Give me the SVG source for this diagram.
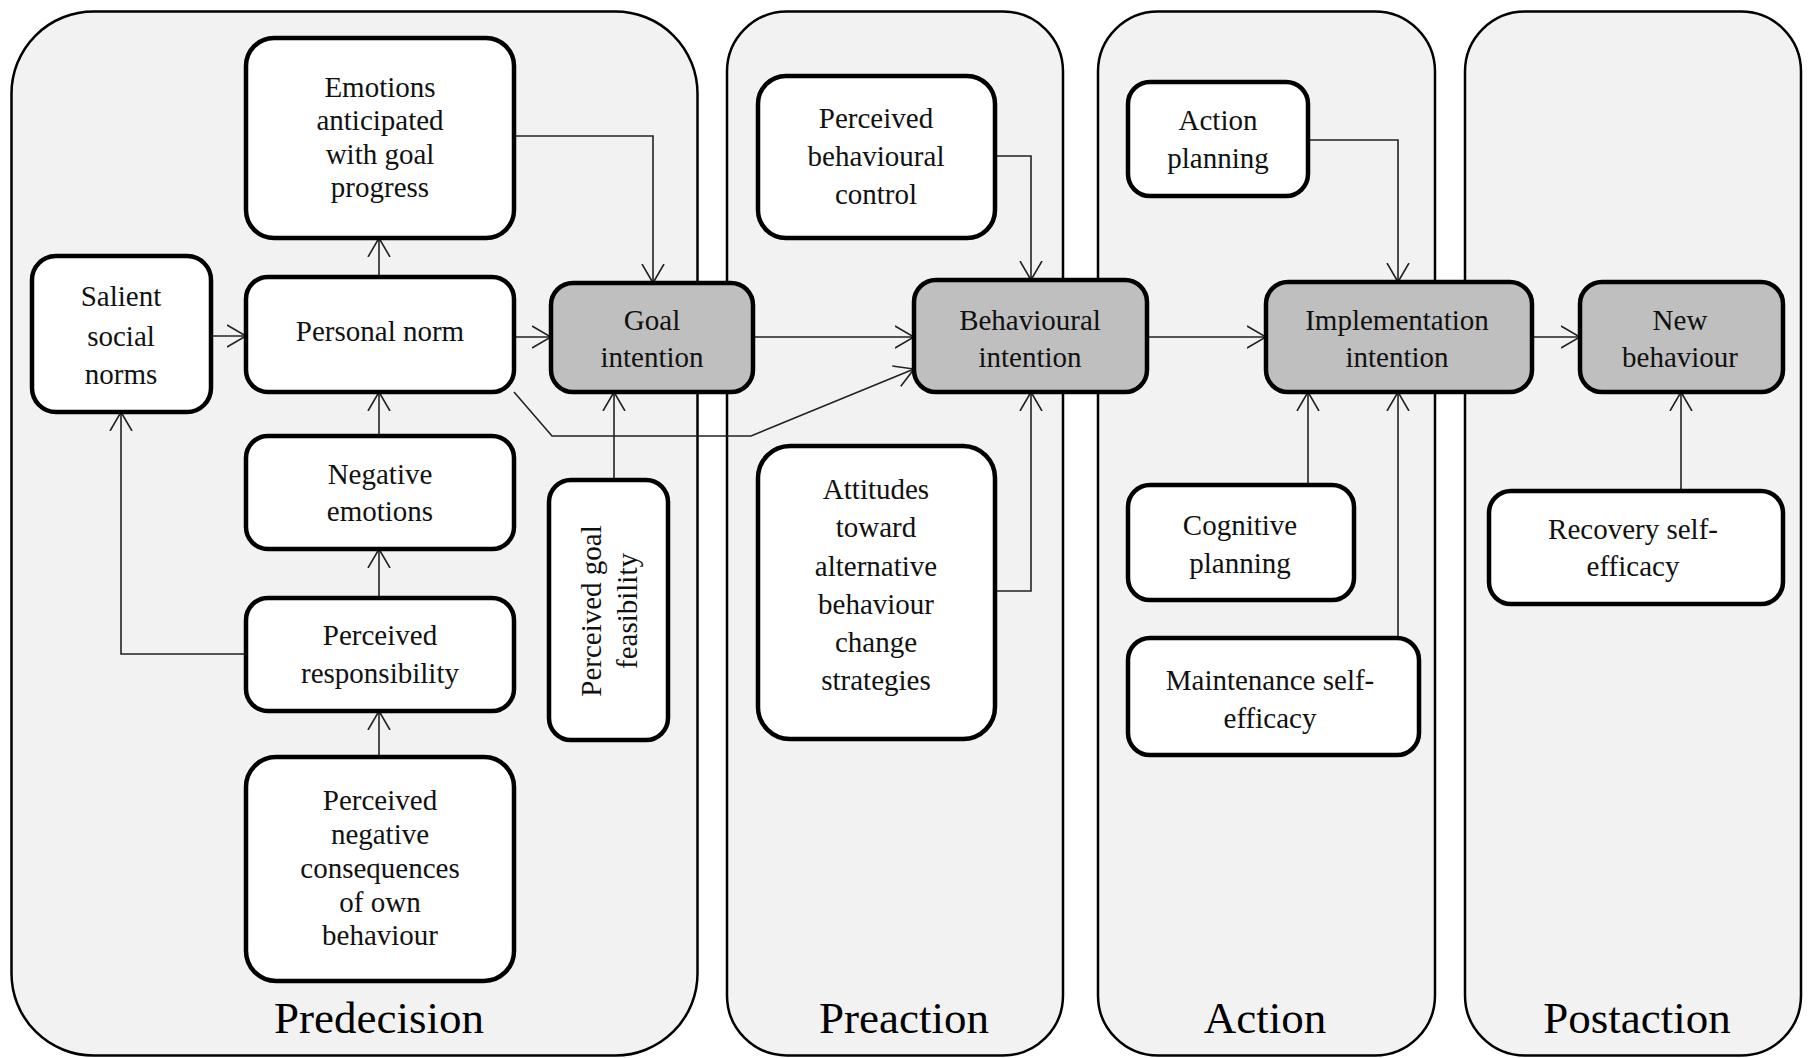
<svg xmlns="http://www.w3.org/2000/svg" width="1810" height="1058" viewBox="0 0 1810 1058">
<defs>
<marker id="arr" viewBox="0 0 20 24" refX="19" refY="12" markerWidth="20" markerHeight="24" markerUnits="userSpaceOnUse" orient="auto">
<path d="M0,1 L19,12 L0,23" fill="none" stroke="#222" stroke-width="1.6"/>
</marker>
</defs>
<style>
.panel{fill:#f2f2f2;stroke:#000;stroke-width:2.5}
.node{fill:#fff;stroke:#000;stroke-width:4.5}
.key{fill:#bfbfbf;stroke:#000;stroke-width:4.5}
.t{font-family:"Liberation Serif","Times New Roman",serif;font-size:29px;fill:#111;text-anchor:middle;dominant-baseline:central}
.lab{font-family:"Liberation Serif","Times New Roman",serif;font-size:45px;fill:#000;text-anchor:middle}
.c{fill:none;stroke:#222;stroke-width:1.6;marker-end:url(#arr)}
</style>
<rect width="1810" height="1058" fill="#fff"/>
<g id="panels">
<rect class="panel" x="11.5" y="11.5" width="686" height="1044" rx="82"/>
<rect class="panel" x="727" y="11.5" width="336" height="1044" rx="60"/>
<rect class="panel" x="1098" y="11.5" width="337" height="1044" rx="60"/>
<rect class="panel" x="1465" y="11.5" width="336" height="1044" rx="60"/>
<text class="lab" x="379" y="1033">Predecision</text>
<text class="lab" x="904" y="1033">Preaction</text>
<text class="lab" x="1265" y="1033">Action</text>
<text class="lab" x="1637" y="1033">Postaction</text>
</g>
<g id="connectors">
<path class="c" d="M514,136 H653 V283"/>
<path class="c" d="M211,336 H246"/>
<path class="c" d="M514,337 H551"/>
<path class="c" d="M379,277 V238"/>
<path class="c" d="M379,436 V392"/>
<path class="c" d="M379,598 V549"/>
<path class="c" d="M379,757 V711"/>
<path class="c" d="M246,654 H121 V412"/>
<path class="c" d="M614,480 V392"/>
<path class="c" d="M753,337 H914"/>
<path class="c" d="M514,392 L552,436 H751 L914,369"/>
<path class="c" d="M995,156 H1031 V280"/>
<path class="c" d="M995,591 H1031 V392"/>
<path class="c" d="M1147,337 H1266"/>
<path class="c" d="M1308,140 H1398 V282"/>
<path class="c" d="M1308,485 V392"/>
<path class="c" d="M1398,638 V392"/>
<path class="c" d="M1532,337 H1580"/>
<path class="c" d="M1681,491 V392"/>
</g>
<g id="n_emotions">
<rect class="node" x="246" y="38" width="268" height="200" rx="28"/>
<text class="t" x="380"><tspan x="380" y="87">Emotions</tspan><tspan x="380" y="120">anticipated</tspan><tspan x="380" y="154">with goal</tspan><tspan x="380" y="187">progress</tspan></text>
</g>
<g id="n_salient">
<rect class="node" x="32" y="256" width="179" height="156" rx="24"/>
<text class="t"><tspan x="121" y="296">Salient</tspan><tspan x="121" y="336">social</tspan><tspan x="121" y="374">norms</tspan></text>
</g>
<g id="n_personal">
<rect class="node" x="246" y="277" width="268" height="115" rx="22"/>
<text class="t" x="380" y="331">Personal norm</text>
</g>
<g id="n_goal">
<rect class="key" x="551" y="283" width="202" height="109" rx="22"/>
<text class="t"><tspan x="652" y="320">Goal</tspan><tspan x="652" y="357">intention</tspan></text>
</g>
<g id="n_negemo">
<rect class="node" x="246" y="436" width="268" height="113" rx="22"/>
<text class="t"><tspan x="380" y="474">Negative</tspan><tspan x="380" y="511">emotions</tspan></text>
</g>
<g id="n_resp">
<rect class="node" x="246" y="598" width="268" height="113" rx="22"/>
<text class="t"><tspan x="380" y="635">Perceived</tspan><tspan x="380" y="673">responsibility</tspan></text>
</g>
<g id="n_conseq">
<rect class="node" x="246" y="757" width="268" height="224" rx="30"/>
<text class="t"><tspan x="380" y="800">Perceived</tspan><tspan x="380" y="834">negative</tspan><tspan x="380" y="868">consequences</tspan><tspan x="380" y="902">of own</tspan><tspan x="380" y="935">behaviour</tspan></text>
</g>
<g id="n_feas">
<rect class="node" x="549" y="480" width="119" height="260" rx="22"/>
<text class="t" transform="translate(610,611) rotate(-90)"><tspan x="0" y="-19">Perceived goal</tspan><tspan x="0" y="17">feasibility</tspan></text>
</g>
<g id="n_pbc">
<rect class="node" x="758" y="76" width="237" height="162" rx="28"/>
<text class="t"><tspan x="876" y="118">Perceived</tspan><tspan x="876" y="156">behavioural</tspan><tspan x="876" y="194">control</tspan></text>
</g>
<g id="n_behint">
<rect class="key" x="914" y="280" width="233" height="112" rx="22"/>
<text class="t"><tspan x="1030" y="320">Behavioural</tspan><tspan x="1030" y="357">intention</tspan></text>
</g>
<g id="n_att">
<rect class="node" x="758" y="446" width="237" height="293" rx="32"/>
<text class="t"><tspan x="876" y="489">Attitudes</tspan><tspan x="876" y="527">toward</tspan><tspan x="876" y="566">alternative</tspan><tspan x="876" y="604">behaviour</tspan><tspan x="876" y="642">change</tspan><tspan x="876" y="680">strategies</tspan></text>
</g>
<g id="n_actplan">
<rect class="node" x="1128" y="82" width="180" height="114" rx="22"/>
<text class="t"><tspan x="1218" y="120">Action</tspan><tspan x="1218" y="158">planning</tspan></text>
</g>
<g id="n_implint">
<rect class="key" x="1266" y="282" width="266" height="110" rx="22"/>
<text class="t"><tspan x="1397" y="320">Implementation</tspan><tspan x="1397" y="357">intention</tspan></text>
</g>
<g id="n_cogplan">
<rect class="node" x="1128" y="485" width="226" height="115" rx="22"/>
<text class="t"><tspan x="1240" y="525">Cognitive</tspan><tspan x="1240" y="563">planning</tspan></text>
</g>
<g id="n_maint">
<rect class="node" x="1128" y="638" width="291" height="117" rx="22"/>
<text class="t"><tspan x="1270" y="680">Maintenance self-</tspan><tspan x="1270" y="718">efficacy</tspan></text>
</g>
<g id="n_newbeh">
<rect class="key" x="1580" y="282" width="203" height="110" rx="22"/>
<text class="t"><tspan x="1680" y="320">New</tspan><tspan x="1680" y="357">behaviour</tspan></text>
</g>
<g id="n_recov">
<rect class="node" x="1489" y="491" width="294" height="113" rx="22"/>
<text class="t"><tspan x="1633" y="529">Recovery self-</tspan><tspan x="1633" y="566">efficacy</tspan></text>
</g>
</svg>
